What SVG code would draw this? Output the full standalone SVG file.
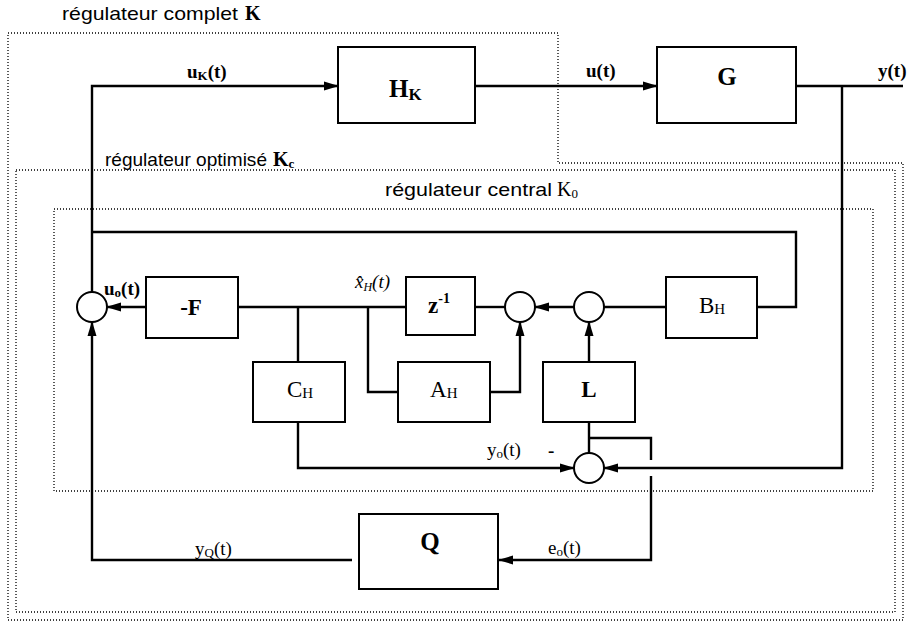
<svg xmlns="http://www.w3.org/2000/svg" width="908" height="624" viewBox="0 0 908 624">
<defs>
<marker id="ah" markerUnits="userSpaceOnUse" markerWidth="15" markerHeight="10" refX="14" refY="5" orient="auto">
<path d="M0,0.5 L15,5 L0,9.5 z" fill="#000"/>
</marker>
<style>
.frame{fill:none;stroke:#000;stroke-width:1.3;stroke-dasharray:1 2}
.box{fill:#fff;stroke:#000;stroke-width:2}
.sum{fill:#fff;stroke:#000;stroke-width:2}
.w{fill:none;stroke:#000;stroke-width:2.4}
.a{fill:none;stroke:#000;stroke-width:2.4;marker-end:url(#ah)}
.sans{font-family:"Liberation Sans",Arial,sans-serif;font-size:18.5px;fill:#000}
.ser{font-family:"Liberation Serif","Times New Roman",serif;fill:#000}
.b{font-weight:bold}
.lbl{font-size:19px}
.blk{font-size:23px}
.big{font-size:25px;font-weight:bold}
</style>
</defs>

<g id="frames">
<path class="frame" d="M8,33 H558 V163 H903 V620 H8 Z"/>
<path class="frame" d="M16,170 H895 V612 H16 Z"/>
<path class="frame" d="M54,209 H873 V491 H54 Z"/>
<text class="sans" x="62" y="20" textLength="176" lengthAdjust="spacingAndGlyphs">régulateur complet</text>
<text class="ser b" x="245" y="20" font-size="20">K</text>
<text class="sans" x="105" y="166" textLength="162" lengthAdjust="spacingAndGlyphs">régulateur optimisé</text>
<text class="ser b" x="273" y="166" font-size="20">K<tspan font-size="13" dy="2">c</tspan></text>
<text class="sans" x="385" y="196" textLength="167" lengthAdjust="spacingAndGlyphs">régulateur central</text>
<text class="ser" x="557" y="196" font-size="20">K<tspan font-size="13" dy="2">0</tspan></text>
</g>

<g id="connectors">
<path class="a" d="M92,292 V86 H338"/>
<path class="a" d="M475,86 H657"/>
<path class="w" d="M796,86 H903"/>
<path class="a" d="M842,86 V468 H604"/>
<path class="w" d="M92,232 H796 V307 H757"/>
<path class="w" d="M666,307 H604"/>
<path class="a" d="M574,307 H535"/>
<path class="w" d="M475,307 H505"/>
<path class="w" d="M406,307 H238"/>
<path class="a" d="M146,307 H107"/>
<path class="w" d="M298,307 V362"/>
<path class="w" d="M368,307 V392 H398"/>
<path class="a" d="M490,392 H520 V322"/>
<path class="a" d="M589,362 V322"/>
<path class="w" d="M589,422 V453"/>
<path class="a" d="M298,422 V468 H574"/>
<path class="w" d="M589,438 H651 V460"/>
<path class="a" d="M651,476 V560 H499"/>
<path class="a" d="M352,560 H92 V322"/>
</g>

<g id="labels" class="ser">
<text class="lbl b" x="187" y="78">u<tspan font-size="13" dy="2">K</tspan><tspan dy="-2">(t)</tspan></text>
<text class="lbl b" x="586" y="77">u(t)</text>
<text class="lbl b" x="878" y="77">y(t)</text>
<text class="lbl b" x="104" y="295">u<tspan font-size="13" dy="2">o</tspan><tspan dy="-2">(t)</tspan></text>
<text class="lbl" x="355" y="288" font-style="italic">x̂<tspan font-size="12" dy="3">H</tspan><tspan dy="-3">(t)</tspan></text>
<text class="lbl" x="487" y="456">y<tspan font-size="13" dy="2">o</tspan><tspan dy="-2">(t)</tspan></text>
<text class="lbl b" x="548" y="457">-</text>
<text class="lbl" x="195" y="555">y<tspan font-size="13" dy="2">Q</tspan><tspan dy="-2">(t)</tspan></text>
<text class="lbl" x="548" y="554">e<tspan font-size="13" dy="2">o</tspan><tspan dy="-2">(t)</tspan></text>
</g>

<g id="sum1"><circle class="sum" cx="92" cy="307" r="15"/></g>
<g id="sum2"><circle class="sum" cx="520" cy="307" r="15"/></g>
<g id="sum3"><circle class="sum" cx="589" cy="307" r="15"/></g>
<g id="sum4"><circle class="sum" cx="589" cy="468" r="15"/></g>

<g id="HK">
<rect class="box" x="338" y="47" width="137" height="76"/>
<text class="ser big" x="389" y="97">H<tspan font-size="17" dy="3">K</tspan></text>
</g>
<g id="G">
<rect class="box" x="657" y="47" width="139" height="76"/>
<text class="ser big" x="727" y="85" text-anchor="middle">G</text>
</g>
<g id="F">
<rect class="box" x="146" y="277" width="92" height="61"/>
<text class="ser blk b" x="191" y="315" text-anchor="middle">-F</text>
</g>
<g id="Zinv">
<rect class="box" x="406" y="277" width="69" height="58"/>
<text class="ser blk b" x="428" y="313">z<tspan font-size="14" dy="-10">-1</tspan></text>
</g>
<g id="BH">
<rect class="box" x="666" y="277" width="91" height="61"/>
<text class="ser blk" x="699" y="313">B<tspan font-size="15" dy="1">H</tspan></text>
</g>
<g id="CH">
<rect class="box" x="253" y="362" width="92" height="60"/>
<text class="ser blk" x="287" y="397">C<tspan font-size="15" dy="1">H</tspan></text>
</g>
<g id="AH">
<rect class="box" x="398" y="362" width="92" height="60"/>
<text class="ser blk" x="430" y="397">A<tspan font-size="15" dy="1">H</tspan></text>
</g>
<g id="L">
<rect class="box" x="543" y="362" width="92" height="60"/>
<text class="ser blk b" x="589" y="397" text-anchor="middle">L</text>
</g>
<g id="Q">
<rect class="box" x="359" y="514" width="139" height="75"/>
<text class="ser big" x="430" y="550" text-anchor="middle">Q</text>
</g>
</svg>
